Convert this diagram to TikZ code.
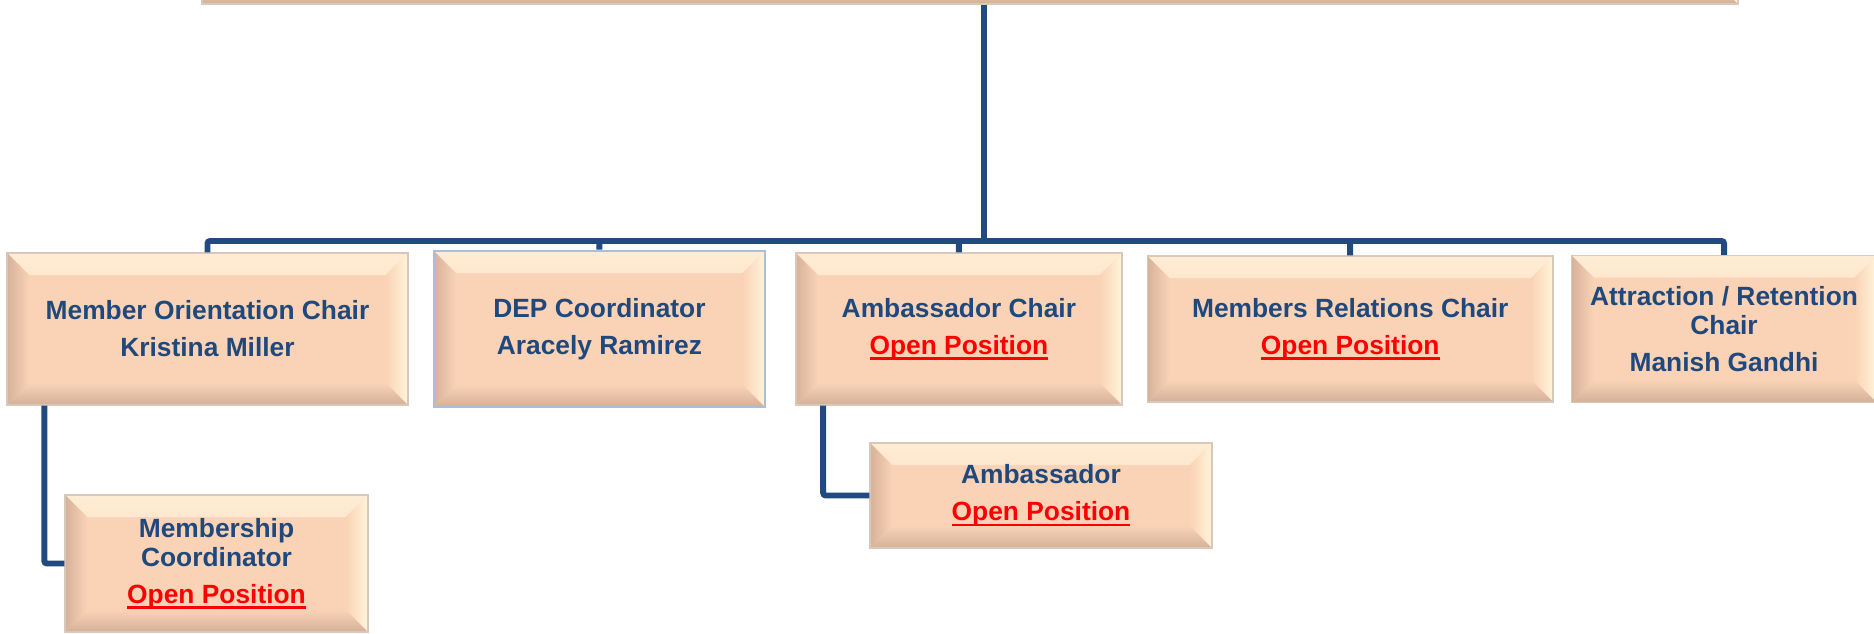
\documentclass[tikz,border=0pt]{standalone}
\usepackage{fontspec}
\setmainfont{Liberation Sans}
\usetikzlibrary{positioning}

\definecolor{boxface}{RGB}{250,211,182}
\definecolor{boxtop}{RGB}{255,236,212}
\definecolor{boxright}{RGB}{255,244,218}
\definecolor{boxleft}{RGB}{214,178,154}
\definecolor{boxbottom}{RGB}{210,176,152}
\definecolor{boxedge}{RGB}{216,200,186}
\definecolor{depedge}{RGB}{170,190,220}
\definecolor{orgblue}{RGB}{31,73,125}
\definecolor{lineblue}{RGB}{33,75,128}
\definecolor{openred}{RGB}{255,0,0}

\newcommand{\openpos}{\textcolor{openred}{\setbox0\hbox{Open Position}\rlap{\rule[-3pt]{\wd0}{1.2pt}}\box0}}

\tikzset{
	bevelbox/.style={draw=boxedge, line width=0.8pt, fill=boxface, inner sep=0pt, align=center, text=orgblue,
		font=\fontsize{15}{16.5}\selectfont\bfseries,
		path picture={
			\shade[top color=boxtop, bottom color=boxface] (path picture bounding box.north west) -- (path picture bounding box.north east) -- ([shift={(-0.44cm,-0.44cm)}]path picture bounding box.north east) -- ([shift={(0.44cm,-0.44cm)}]path picture bounding box.north west) -- cycle;
			\shade[left color=boxface, right color=boxright] (path picture bounding box.north east) -- (path picture bounding box.south east) -- ([shift={(-0.44cm,0.44cm)}]path picture bounding box.south east) -- ([shift={(-0.44cm,-0.44cm)}]path picture bounding box.north east) -- cycle;
			\shade[top color=boxface, bottom color=boxbottom] (path picture bounding box.south east) -- (path picture bounding box.south west) -- ([shift={(0.44cm,0.44cm)}]path picture bounding box.south west) -- ([shift={(-0.44cm,0.44cm)}]path picture bounding box.south east) -- cycle;
			\shade[left color=boxleft, right color=boxface] (path picture bounding box.south west) -- (path picture bounding box.north west) -- ([shift={(0.44cm,-0.44cm)}]path picture bounding box.north west) -- ([shift={(0.44cm,0.44cm)}]path picture bounding box.south west) -- cycle;
		}},
	orgline/.style={draw=lineblue, line width=3.4pt, rounded corners=1.5pt}
}

\begin{document}
\begin{tikzpicture}[x=0.02cm, y=-0.02cm]

	\useasboundingbox (0,0) rectangle (1874,634);
	\clip (0,0) rectangle (1874,634);

	\node[bevelbox, minimum width=30.72cm, minimum height=2cm] (Top) at (970,-46) {};

	\node[bevelbox, minimum width=8.02cm, minimum height=3.04cm] (MOC) at (207.5,329) {Member Orientation Chair\\[4.5pt]Kristina Miller};
	\node[bevelbox, right=0.48cm of MOC, minimum width=6.62cm, minimum height=3.12cm, draw=depedge, line width=1.5pt] (DEP) {DEP Coordinator\\[4.5pt]Aracely Ramirez};
	\node[bevelbox, right=0.58cm of DEP, minimum width=6.52cm, minimum height=3.04cm] (AC) {Ambassador Chair\\[4.5pt]\openpos};
	\node[bevelbox, right=0.48cm of AC, minimum width=8.12cm, minimum height=2.92cm] (MRC) {Members Relations Chair\\[4.5pt]\openpos};
	\node[bevelbox, right=0.34cm of MRC, minimum width=6.1cm, minimum height=2.94cm] (ARC) {Attraction / Retention\\Chair\\[4.5pt]Manish Gandhi};

	\node[bevelbox, minimum width=6.06cm, minimum height=2.74cm] (MC) at (216.5,563.5) {Membership\\Coordinator\\[4.5pt]\openpos};
	\node[bevelbox, minimum width=6.84cm, minimum height=2.1cm] (AMB) at (1041,495.5) {Ambassador\\[4.5pt]\openpos};

	\coordinate (Bus) at (984,241);
	\draw[orgline] (Bus |- Top.south) -- (Bus);
	\draw[orgline] (Bus) -| (MOC);
	\draw[orgline] (Bus) -| (DEP);
	\draw[orgline] (Bus) -| (AC);
	\draw[orgline] (Bus) -| (MRC);
	\draw[orgline] (Bus) -| (ARC);

	\draw[orgline] ([xshift=0.76cm]MOC.south west) |- (MC.west);
	\draw[orgline] ([xshift=0.56cm]AC.south west) |- (AMB.west);

\end{tikzpicture}
\end{document}
